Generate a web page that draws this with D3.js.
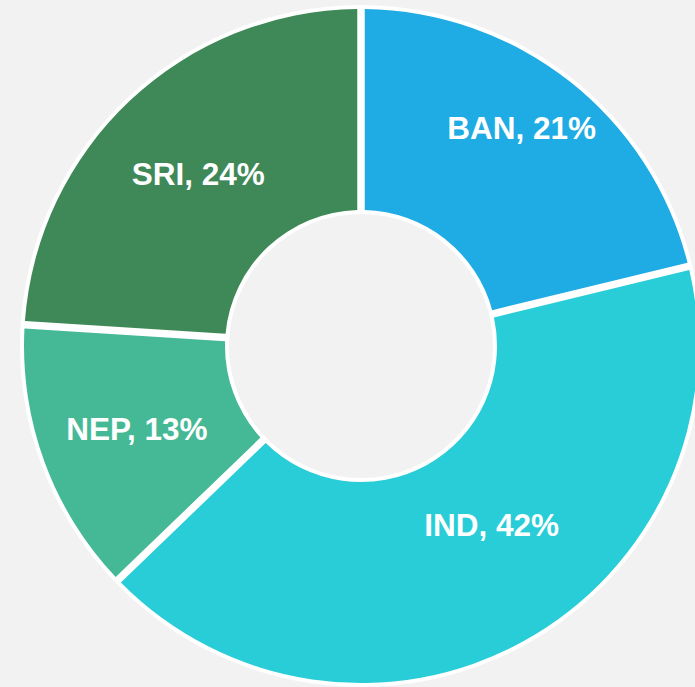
<!DOCTYPE html>
<html>
<head>
<meta charset="utf-8">
<script src="https://cdn.jsdelivr.net/npm/d3@7"></script>
<style>
  html, body { margin: 0; padding: 0; background: #f2f2f2; overflow: hidden; }
</style>
</head>
<body>
<div id="chart"></div>
<script>
// --------------------
// DATA
// --------------------
const countries = ["BAN", "IND", "NEP", "SRI"];
const shares = [21.2, 41.6, 13.2, 24.0];
const colors = ["#1fabe3", "#28cdd7", "#45b996", "#3e8957"];

const data = countries.map((c, i) => ({ name: c, value: shares[i], color: colors[i] }));

// label fine-tuning (px), the source placed a few labels off the ring middle
const labelNudge = { BAN: [11, -28], IND: [14, -33], NEP: [3, -1], SRI: [3, 4] };

// --------------------
// LAYOUT
// --------------------
const width = 695;
const height = 687;
const cx = 361;
const cy = 346;
const outer = 337;
const inner = 136;
const rim = 4;

const svg = d3.select("#chart")
  .append("svg")
  .attr("width", width)
  .attr("height", height)
  .style("background", "#f2f2f2");

const g = svg.append("g")
  .attr("transform", `translate(${cx},${cy})`);

// white ring behind the slices
g.append("path")
  .attr("d", d3.arc()
    .innerRadius(inner - rim)
    .outerRadius(outer + rim)
    .startAngle(0)
    .endAngle(2 * Math.PI)())
  .attr("fill", "#ffffff");

const pie = d3.pie()
  .value(d => d.value)
  .sort(null);

const arc = d3.arc()
  .innerRadius(inner)
  .outerRadius(outer)
  .padRadius(outer)
  .padAngle(7.5 / outer);

const slices = pie(data);

g.selectAll("path.slice")
  .data(slices)
  .join("path")
  .attr("class", "slice")
  .attr("d", arc)
  .attr("fill", d => d.data.color);

// labels
const labelArc = d3.arc()
  .innerRadius(242)
  .outerRadius(242);

g.selectAll("text.label")
  .data(slices)
  .join("text")
  .attr("class", "label")
  .attr("transform", d => {
    const [x, y] = labelArc.centroid(d);
    const [nx, ny] = labelNudge[d.data.name];
    return `translate(${x + nx},${y + ny})`;
  })
  .attr("text-anchor", "middle")
  .attr("dy", "0.36em")
  .style("font-family", "'Liberation Sans', Arial, sans-serif")
  .style("font-weight", "bold")
  .style("font-size", "31.5px")
  .style("fill", "#ffffff")
  .text(d => `${d.data.name}, ${Math.round(d.data.value)}%`);
</script>
</body>
</html>
